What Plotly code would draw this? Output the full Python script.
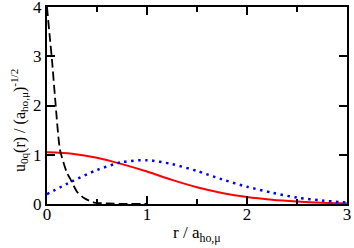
import plotly.graph_objects as go

# Red solid curve
r_red = [0.0, 0.25, 0.5, 0.75, 1.0, 1.25, 1.5, 1.75, 2.0, 2.25, 2.5, 2.75, 3.0]
u_red = [1.05, 1.02, 0.94, 0.81, 0.66, 0.49, 0.34, 0.225, 0.14, 0.085, 0.05, 0.025, 0.01]

# Blue dotted curve
r_blue = [0.0, 0.25, 0.5, 0.75, 1.0, 1.25, 1.5, 1.75, 2.0, 2.25, 2.5, 2.75, 3.0]
u_blue = [0.2, 0.46, 0.69, 0.85, 0.89, 0.81, 0.67, 0.5, 0.35, 0.23, 0.13, 0.07, 0.03]

# Black dashed curve
r_black = [0.0, 0.025, 0.05, 0.083, 0.13, 0.2, 0.23, 0.3, 0.37, 0.47, 0.6, 0.8, 1.0]
u_black = [4.0, 3.45, 2.92, 2.1, 1.1, 0.63, 0.52, 0.25, 0.12, 0.03, 0.01, 0.0, 0.0]

x_ticks = [0, 1, 2, 3]
y_ticks = [0, 1, 2, 3, 4]
x_title = "r / a<sub>ho,μ</sub>"
y_title = "u<sub>0q</sub>(r) / (a<sub>ho,μ</sub>)<sup>-1/2</sup>"

SERIF = "Liberation Serif, Times New Roman, serif"

fig = go.Figure()
fig.add_trace(go.Scatter(x=r_red, y=u_red, mode="lines",
                         line=dict(color="#ff0000", width=2, shape="spline", smoothing=0.8)))
fig.add_trace(go.Scatter(x=r_blue, y=u_blue, mode="lines",
                         line=dict(color="#0000ff", width=2.5, dash="2.5px,4.5px", shape="spline", smoothing=0.8)))
fig.add_trace(go.Scatter(x=r_black, y=u_black, mode="lines",
                         line=dict(color="black", width=1.8, dash="9px,4px", shape="spline", smoothing=0.6)))

font = dict(family=SERIF, size=17, color="black")
fig.update_layout(
    width=354, height=248,
    margin=dict(l=47, r=7, t=7, b=44),
    paper_bgcolor="white", plot_bgcolor="white",
    showlegend=False,
    font=font,
)
fig.update_xaxes(
    range=[0, 3], tickvals=x_ticks, ticktext=[str(v) for v in x_ticks],
    showgrid=False, zeroline=False, automargin=False,
    showline=True, linecolor="black", linewidth=2, mirror="allticks",
    ticks="inside", ticklen=8, tickwidth=1.8, tickcolor="black",
    minor=dict(dtick=0.5, ticks="inside", ticklen=5, tickwidth=1.5, tickcolor="black", showgrid=False),
    tickfont=font, ticklabeloverflow="allow", ticklabelstandoff=-6,
)
fig.update_yaxes(
    range=[0, 4], tickvals=y_ticks, ticktext=[str(v) for v in y_ticks],
    showgrid=False, zeroline=False, automargin=False,
    showline=True, linecolor="black", linewidth=2, mirror="allticks",
    ticks="inside", ticklen=8, tickwidth=1.8, tickcolor="black",
    tickfont=font, ticklabeloverflow="allow", ticklabelstandoff=0,
)
fig.add_annotation(text=x_title, xref="paper", yref="paper", x=0.5, y=0,
                   xanchor="center", yanchor="top", yshift=-17, showarrow=False,
                   font=dict(family=SERIF, size=17, color="black"))
fig.add_annotation(text=y_title, xref="paper", yref="paper", x=0, y=0.421,
                   xanchor="center", yanchor="middle", xshift=-28, textangle=-90,
                   showarrow=False, font=dict(family=SERIF, size=16, color="black"))
fig.write_html("out.html", config={"displayModeBar": False},
               post_script="document.body.style.margin='0px';document.body.style.overflow='hidden';")
